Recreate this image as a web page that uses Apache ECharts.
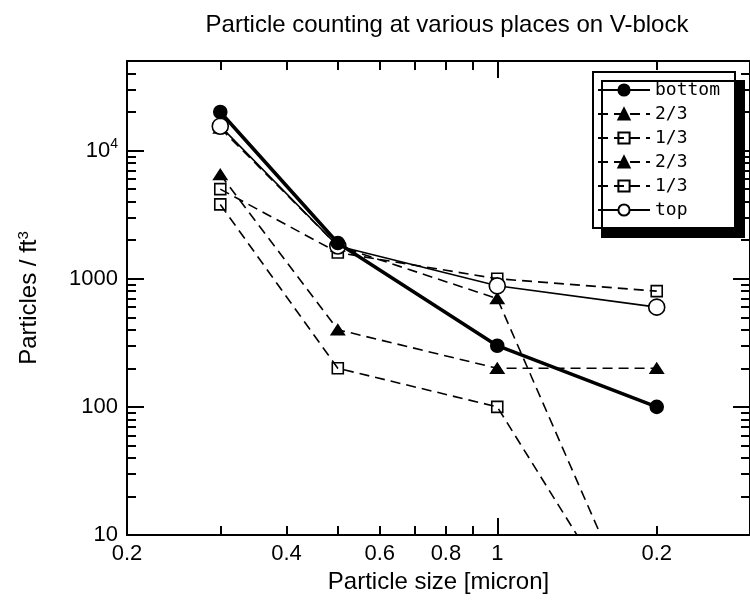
<!DOCTYPE html>
<html>
<head>
<meta charset="utf-8">
<script src="https://cdn.jsdelivr.net/npm/echarts@6/dist/echarts.min.js"></script>
<style>
  html, body { margin: 0; padding: 0; background: #fff; }
  #chart { width: 750px; height: 604px; }
</style>
</head>
<body>
<div id="chart"></div>
<script>
// particle size (micron)
const sizes = [0.3, 0.5, 1, 2]

// particles / ft3 for each place
const bottom = [20000, 1900, 300, 100]
const twoThirdA = [6500, 400, 200, 200]
const oneThirdA = [3800, 200, 100, 1]
const twoThirdB = [15000, 1800, 700, 1]
const oneThirdB = [5000, 1600, 1000, 800]
const top_ = [15500, 1800, 880, 600]

const legendLabels = ["bottom", "2/3", "1/3", "2/3", "1/3", "top"]
const seriesKeys = ["bottom", "twoThirdA", "oneThirdA", "twoThirdB", "oneThirdB", "top"]

const xLabelValues = [0.2, 0.4, 0.6, 0.8, 1, 2]
const xLabelTexts = ["0.2", "0.4", "0.6", "0.8", "1", "0.2"]
const xMajorTicks = [1]
const xMinorTicks = [0.3, 0.4, 0.5, 0.6, 0.7, 0.8, 0.9, 2, 3]

const yLabelValues = [10, 100, 1000, 10000]
const yLabelTexts = ["10", "100", "1000", "10{sup|4}"]
const yMinorTicks = [20, 30, 40, 50, 60, 70, 80, 90, 200, 300, 400, 500, 600, 700, 800, 900,
  2000, 3000, 4000, 5000, 6000, 7000, 8000, 9000, 20000, 30000, 40000]

const font = "'Liberation Sans', Arial, sans-serif"
const black = "#000"

function pick(values, texts, v) {
  for (let i = 0; i < values.length; i++) {
    if (Math.abs(values[i] - v) / values[i] < 1e-6) return texts[i]
  }
  return ""
}

function toPoints(vals) {
  return sizes.map((x, i) => [x, vals[i]])
}

function xAxisOf(position, ticks, len, withLine, withLabels) {
  return {
    type: "log",
    logBase: 10,
    min: 0.2,
    max: 3,
    position: position,
    axisLine: { show: withLine, lineStyle: { color: black, width: 2 } },
    axisTick: { show: true, inside: true, length: len, customValues: ticks, lineStyle: { color: black, width: 2 } },
    axisLabel: withLabels
      ? {
          customValues: xLabelValues,
          formatter: (v) => pick(xLabelValues, xLabelTexts, v),
          fontSize: 22,
          fontFamily: font,
          color: black,
          margin: 8,
        }
      : { show: false },
    splitLine: { show: false },
  }
}

function yAxisOf(position, ticks, len, withLine, withLabels) {
  return {
    type: "log",
    logBase: 10,
    min: 10,
    max: 50000,
    position: position,
    axisLine: { show: withLine, lineStyle: { color: black, width: 2 } },
    axisTick: { show: true, inside: true, length: len, customValues: ticks, lineStyle: { color: black, width: 2 } },
    axisLabel: withLabels
      ? {
          customValues: yLabelValues,
          formatter: (v) => pick(yLabelValues, yLabelTexts, v),
          fontSize: 22,
          fontFamily: font,
          color: black,
          margin: 9,
          rich: {
            sup: { fontSize: 14, fontFamily: font, color: black, verticalAlign: "top", padding: [0, 0, 12, 0] },
          },
        }
      : { show: false },
    splitLine: { show: false },
  }
}

const dashed = [10, 6]

// z: bottom is drawn over everything, top covers the dashed series
const styles = {
  bottom: { symbol: "circle", symbolSize: 13, width: 3.5, type: "solid", fill: black, z: 10 },
  twoThirdA: { symbol: "triangle", symbolSize: [13, 10], width: 1.6, type: dashed, fill: black, z: 3 },
  oneThirdA: { symbol: "rect", symbolSize: 11, width: 1.6, type: dashed, fill: "rgba(0,0,0,0)", z: 4 },
  twoThirdB: { symbol: "triangle", symbolSize: [13, 10], width: 1.6, type: dashed, fill: black, z: 5 },
  oneThirdB: { symbol: "rect", symbolSize: 11, width: 1.6, type: dashed, fill: "rgba(0,0,0,0)", z: 6 },
  top: { symbol: "circle", symbolSize: 16, width: 1.6, type: "solid", fill: "#fff", z: 8 },
}

const seriesData = {
  bottom: bottom,
  twoThirdA: twoThirdA,
  oneThirdA: oneThirdA,
  twoThirdB: twoThirdB,
  oneThirdB: oneThirdB,
  top: top_,
}

const series = seriesKeys.map((key) => {
  const s = styles[key]
  return {
    name: key,
    type: "line",
    xAxisIndex: 0,
    yAxisIndex: 0,
    data: toPoints(seriesData[key]),
    symbol: s.symbol,
    symbolSize: s.symbolSize,
    showAllSymbol: true,
    clip: true,
    z: s.z,
    lineStyle: { color: black, width: s.width, type: s.type },
    itemStyle: { color: s.fill, borderColor: black, borderWidth: 1.6 },
    emphasis: { disabled: true },
    animation: false,
  }
})

const myChart = echarts.init(document.getElementById("chart"))
myChart.setOption({
  animation: false,
  title: {
    text: "Particle counting at various places on V-block",
    left: 442,
    top: 8,
    textAlign: "center",
    textStyle: { fontSize: 24, fontWeight: "normal", fontFamily: font, color: black },
  },
  grid: { left: 127, top: 61, width: 630, height: 474 },
  legend: {
    orient: "vertical",
    left: 593,
    top: 72,
    z: 20,
    data: seriesKeys,
    formatter: (name) => legendLabels[seriesKeys.indexOf(name)],
    itemWidth: 52,
    itemHeight: 14,
    itemGap: 6,
    padding: [9, 8, 9, 4],
    backgroundColor: "#fff",
    borderColor: black,
    borderWidth: 2,
    borderRadius: 0,
    shadowColor: black,
    shadowBlur: 0,
    shadowOffsetX: 9,
    shadowOffsetY: 9,
    selectedMode: false,
    textStyle: { fontFamily: "'DejaVu Sans Mono', monospace", fontSize: 18, color: black, lineHeight: 18, width: 72 },
  },
  xAxis: [
    Object.assign(xAxisOf("bottom", xMajorTicks, 17, true, true), {
      name: "Particle size [micron]",
      nameLocation: "middle",
      nameGap: 30,
      nameTextStyle: { fontSize: 24, fontFamily: font, color: black },
    }),
    xAxisOf("bottom", xMinorTicks, 9, false, false),
    xAxisOf("top", xMajorTicks, 17, true, false),
    xAxisOf("top", xMinorTicks, 9, false, false),
  ],
  yAxis: [
    Object.assign(yAxisOf("left", yLabelValues, 17, true, true), {
      name: "Particles / ft{sup|3}",
      nameLocation: "middle",
      nameGap: 84,
      nameTextStyle: {
        fontSize: 24,
        fontFamily: font,
        color: black,
        rich: { sup: { fontSize: 15, fontFamily: font, color: black, verticalAlign: "top", padding: [0, 0, 12, 0] } },
      },
    }),
    yAxisOf("left", yMinorTicks, 9, false, false),
    yAxisOf("right", yLabelValues, 17, true, false),
    yAxisOf("right", yMinorTicks, 9, false, false),
  ],
  series: series,
})

window.addEventListener("resize", () => {
  myChart.resize()
})
</script>
</body>
</html>
